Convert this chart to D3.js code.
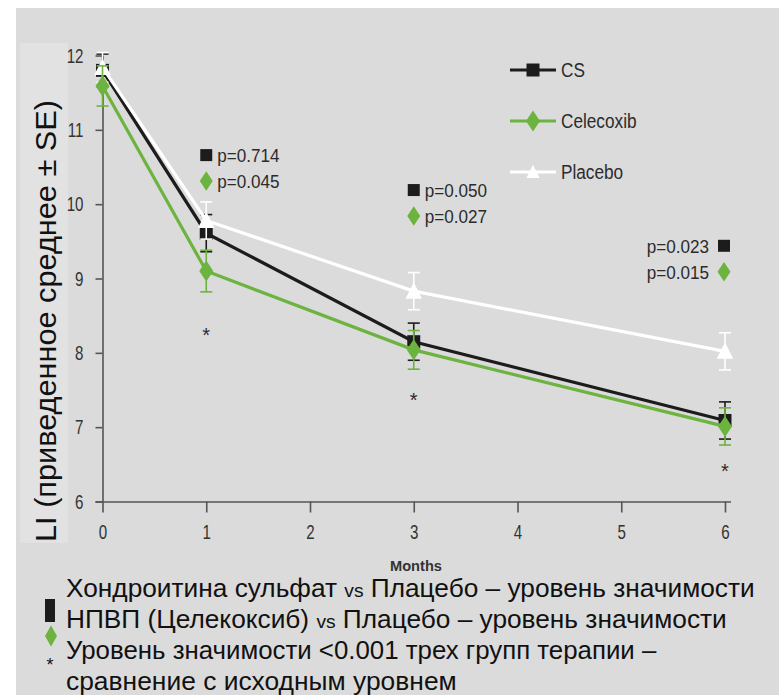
<!DOCTYPE html>
<html>
<head>
<meta charset="utf-8">
<script src="https://cdn.jsdelivr.net/npm/d3@7"></script>
<style>
  body { margin: 0; background: #fff; }
</style>
</head>
<body>
<svg id="chart" width="779" height="700"></svg>
<script>
// ---- data ----
const months = [0, 1, 3, 6];
const csMean = [11.8, 9.61, 8.15, 7.09];
const csSE = [0.22, 0.25, 0.25, 0.25];
const celMean = [11.59, 9.1, 8.04, 7.01];
const celSE = [0.27, 0.28, 0.26, 0.25];
const plMean = [11.84, 9.78, 8.83, 8.02];
const plSE = [0.2, 0.25, 0.25, 0.25];

const xTicks = [0, 1, 2, 3, 4, 5, 6];
const yTicks = [6, 7, 8, 9, 10, 11, 12];

const pMonths = [1, 3, 6];
const pCS = ['p=0.714', 'p=0.050', 'p=0.023'];
const pCel = ['p=0.045', 'p=0.027', 'p=0.015'];
const pLevel = [10.66, 10.19, 9.44];

const starMonths = [1, 3, 6];
const starLevel = [8.3, 7.42, 6.47];

const seriesNames = ['CS', 'Celecoxib', 'Placebo'];
const footnotes = [
    ['Хондроитина сульфат ', 'vs', ' Плацебо – уровень значимости'],
    ['НПВП (Целекоксиб) ', 'vs', ' Плацебо – уровень значимости'],
    ['Уровень значимости <0.001 трех групп терапии –'],
    ['сравнение с исходным уровнем'],
];
const footWidths = [689, 661, 591, 391];

const COLORS = {
    bg: '#dbdbdb',
    labelBox: '#e2e2e2',
    axis: '#555',
    ink: '#1c1c1c',
    green: '#6db33f',
    white: '#ffffff',
    text: '#2b2b2b',
};
const SANS = "'Liberation Sans', Arial, sans-serif";

const svg = d3.select('#chart');

// squeeze text horizontally (no narrow face installed)
function squeeze(sel, f) {
    sel.each(function () {
        const len = this.getComputedTextLength();
        d3.select(this).attr('textLength', len * f).attr('lengthAdjust', 'spacingAndGlyphs');
    });
}

// background panels
svg.append('rect').attr('x', 16).attr('y', 8).attr('width', 763).attr('height', 687).attr('fill', COLORS.bg);
svg.append('rect').attr('x', 20).attr('y', 43).attr('width', 48).attr('height', 500).attr('fill', COLORS.labelBox);

const x = d3.scaleLinear().domain([0, 6]).range([102.5, 725]);
const y = d3.scaleLinear().domain([6, 12]).range([501.5, 55.5]);

// ---- axes ----
const yAxis = svg.append('g')
    .attr('transform', `translate(${x(0)},0)`)
    .call(d3.axisLeft(y).tickValues(yTicks).tickFormat(d3.format('d'))
        .tickSize(7).tickSizeOuter(0).tickPadding(12));
const xAxis = svg.append('g')
    .attr('transform', `translate(0,${y(6)})`)
    .call(d3.axisBottom(x).tickValues(xTicks).tickFormat(d3.format('d'))
        .tickSize(11).tickSizeOuter(0).tickPadding(12));

[yAxis, xAxis].forEach((a) => {
    a.selectAll('path, line').attr('stroke', COLORS.axis).attr('stroke-width', 1.6);
    a.selectAll('text')
        .attr('fill', '#333')
        .attr('font-family', SANS)
        .attr('font-size', 21);
    squeeze(a.selectAll('text'), 0.72);
});
xAxis.select('.domain').attr('d', `M${x(0) - 7},0.5H${x(6) + 6}`);

// ---- marker shapes ----
const shapes = {
    square: (s) => `M${-s / 2},${-s / 2}h${s}v${s}h${-s}Z`,
    diamond: (s) => `M0,${-s * 0.75}L${s * 0.5},0L0,${s * 0.75}L${-s * 0.5},0Z`,
    triangle: (s) => `M0,${-s * 0.6}L${s * 0.55},${s * 0.5}L${-s * 0.55},${s * 0.5}Z`,
};

const series = [
    { name: seriesNames[0], mean: csMean, se: csSE, color: COLORS.ink, shape: 'square', size: 13 },
    { name: seriesNames[2], mean: plMean, se: plSE, color: COLORS.white, shape: 'triangle', size: 15 },
    { name: seriesNames[1], mean: celMean, se: celSE, color: COLORS.green, shape: 'diamond', size: 14 },
];

const line = d3.line().x((d) => x(d.m)).y((d) => y(d.v));

series.forEach((s) => {
    const pts = months.map((m, i) => ({ m, v: s.mean[i], e: s.se[i] }));
    const g = svg.append('g');

    // error bars
    const eb = g.selectAll('.eb').data(pts).enter().append('g')
        .attr('stroke', s.color).attr('stroke-width', 1.6).attr('fill', 'none');
    eb.append('line')
        .attr('x1', (d) => x(d.m)).attr('x2', (d) => x(d.m))
        .attr('y1', (d) => y(d.v + d.e)).attr('y2', (d) => y(d.v - d.e));
    eb.append('line')
        .attr('x1', (d) => x(d.m) - 6).attr('x2', (d) => x(d.m) + 6)
        .attr('y1', (d) => y(d.v + d.e)).attr('y2', (d) => y(d.v + d.e));
    eb.append('line')
        .attr('x1', (d) => x(d.m) - 6).attr('x2', (d) => x(d.m) + 6)
        .attr('y1', (d) => y(d.v - d.e)).attr('y2', (d) => y(d.v - d.e));

    g.append('path')
        .datum(pts)
        .attr('d', line)
        .attr('fill', 'none')
        .attr('stroke', s.color)
        .attr('stroke-width', 3.2);

    g.selectAll('.mk').data(pts).enter().append('path')
        .attr('d', shapes[s.shape](s.size))
        .attr('transform', (d) => `translate(${x(d.m)},${y(d.v)})`)
        .attr('fill', s.color);
});

// ---- p-value annotations ----
pMonths.forEach((m, i) => {
    const cx = x(m);
    const y1 = y(pLevel[i]);
    const y2 = y1 + 26;
    const right = i === pMonths.length - 1;
    const mx = right ? cx - 1 : cx;
    svg.append('path').attr('d', shapes.square(12)).attr('transform', `translate(${mx},${y1})`).attr('fill', COLORS.ink);
    svg.append('path').attr('d', shapes.diamond(13)).attr('transform', `translate(${mx},${y2})`).attr('fill', COLORS.green);
    [[pCS[i], y1], [pCel[i], y2]].forEach(([t, yy]) => {
        const tx = svg.append('text')
            .attr('x', right ? mx - 15 : mx + 11)
            .attr('y', yy)
            .attr('dy', '0.36em')
            .attr('text-anchor', right ? 'end' : 'start')
            .attr('font-family', SANS)
            .attr('font-size', 19)
            .attr('fill', COLORS.text)
            .text(t);
        squeeze(tx, 0.9);
    });
});

// asterisks
svg.selectAll('.star').data(starMonths).enter().append('text')
    .attr('x', (d) => x(d))
    .attr('y', (d, i) => y(starLevel[i]))
    .attr('dy', '0.55em')
    .attr('text-anchor', 'middle')
    .attr('font-family', SANS)
    .attr('font-size', 20)
    .attr('fill', COLORS.text)
    .text('*');

// ---- legend ----
const legend = svg.append('g').attr('transform', 'translate(510,70)');
const legendItems = [
    { name: seriesNames[0], color: COLORS.ink, shape: 'square', size: 13 },
    { name: seriesNames[1], color: COLORS.green, shape: 'diamond', size: 14 },
    { name: seriesNames[2], color: COLORS.white, shape: 'triangle', size: 12 },
];
legendItems.forEach((d, i) => {
    const g = legend.append('g').attr('transform', `translate(0,${i * 51})`);
    g.append('line').attr('x1', 0).attr('x2', 46).attr('stroke', d.color).attr('stroke-width', 3);
    g.append('path').attr('d', shapes[d.shape](d.size)).attr('transform', 'translate(23,0)').attr('fill', d.color);
    const t = g.append('text')
        .attr('x', 51).attr('dy', '0.36em')
        .attr('font-family', SANS)
        .attr('font-size', 20)
        .attr('fill', COLORS.text)
        .text(d.name);
    squeeze(t, 0.86);
});

// ---- axis titles ----
svg.append('text')
    .attr('transform', 'translate(56,321) rotate(-90)')
    .attr('text-anchor', 'middle')
    .attr('font-family', SANS)
    .attr('font-size', 30)
    .attr('textLength', 442)
    .attr('lengthAdjust', 'spacingAndGlyphs')
    .attr('fill', '#111')
    .text('LI (приведенное среднее ± SE)');

svg.append('text')
    .attr('x', 416).attr('y', 571)
    .attr('text-anchor', 'middle')
    .attr('font-family', SANS)
    .attr('font-weight', 'bold')
    .attr('font-size', 15)
    .attr('textLength', 52)
    .attr('lengthAdjust', 'spacingAndGlyphs')
    .attr('fill', '#333')
    .text('Months');

// ---- footnotes ----
footnotes.forEach((parts, i) => {
    const g = svg.append('g');
    const t = g.append('text')
        .attr('x', 0).attr('y', 0)
        .attr('font-family', SANS)
        .attr('font-size', 26)
        .attr('fill', '#111');
    parts.forEach((p) => {
        t.append('tspan').attr('font-size', p === 'vs' ? 19 : 26).text(p);
    });
    const w = t.node().getBBox().width;
    g.attr('transform', `translate(66,${597 + i * 31}) scale(${footWidths[i] / w},1)`);
});
svg.append('rect').attr('x', 45).attr('y', 599).attr('width', 10).attr('height', 23).attr('fill', COLORS.ink);
svg.append('path').attr('d', 'M0,-10.5L6,0L0,10.5L-6,0Z').attr('transform', 'translate(51,636)').attr('fill', COLORS.green);
svg.append('text').attr('x', 50).attr('y', 660).attr('dy', '0.6em').attr('text-anchor', 'middle')
    .attr('font-family', SANS).attr('font-size', 18).attr('fill', '#111').text('*');
</script>
</body>
</html>
